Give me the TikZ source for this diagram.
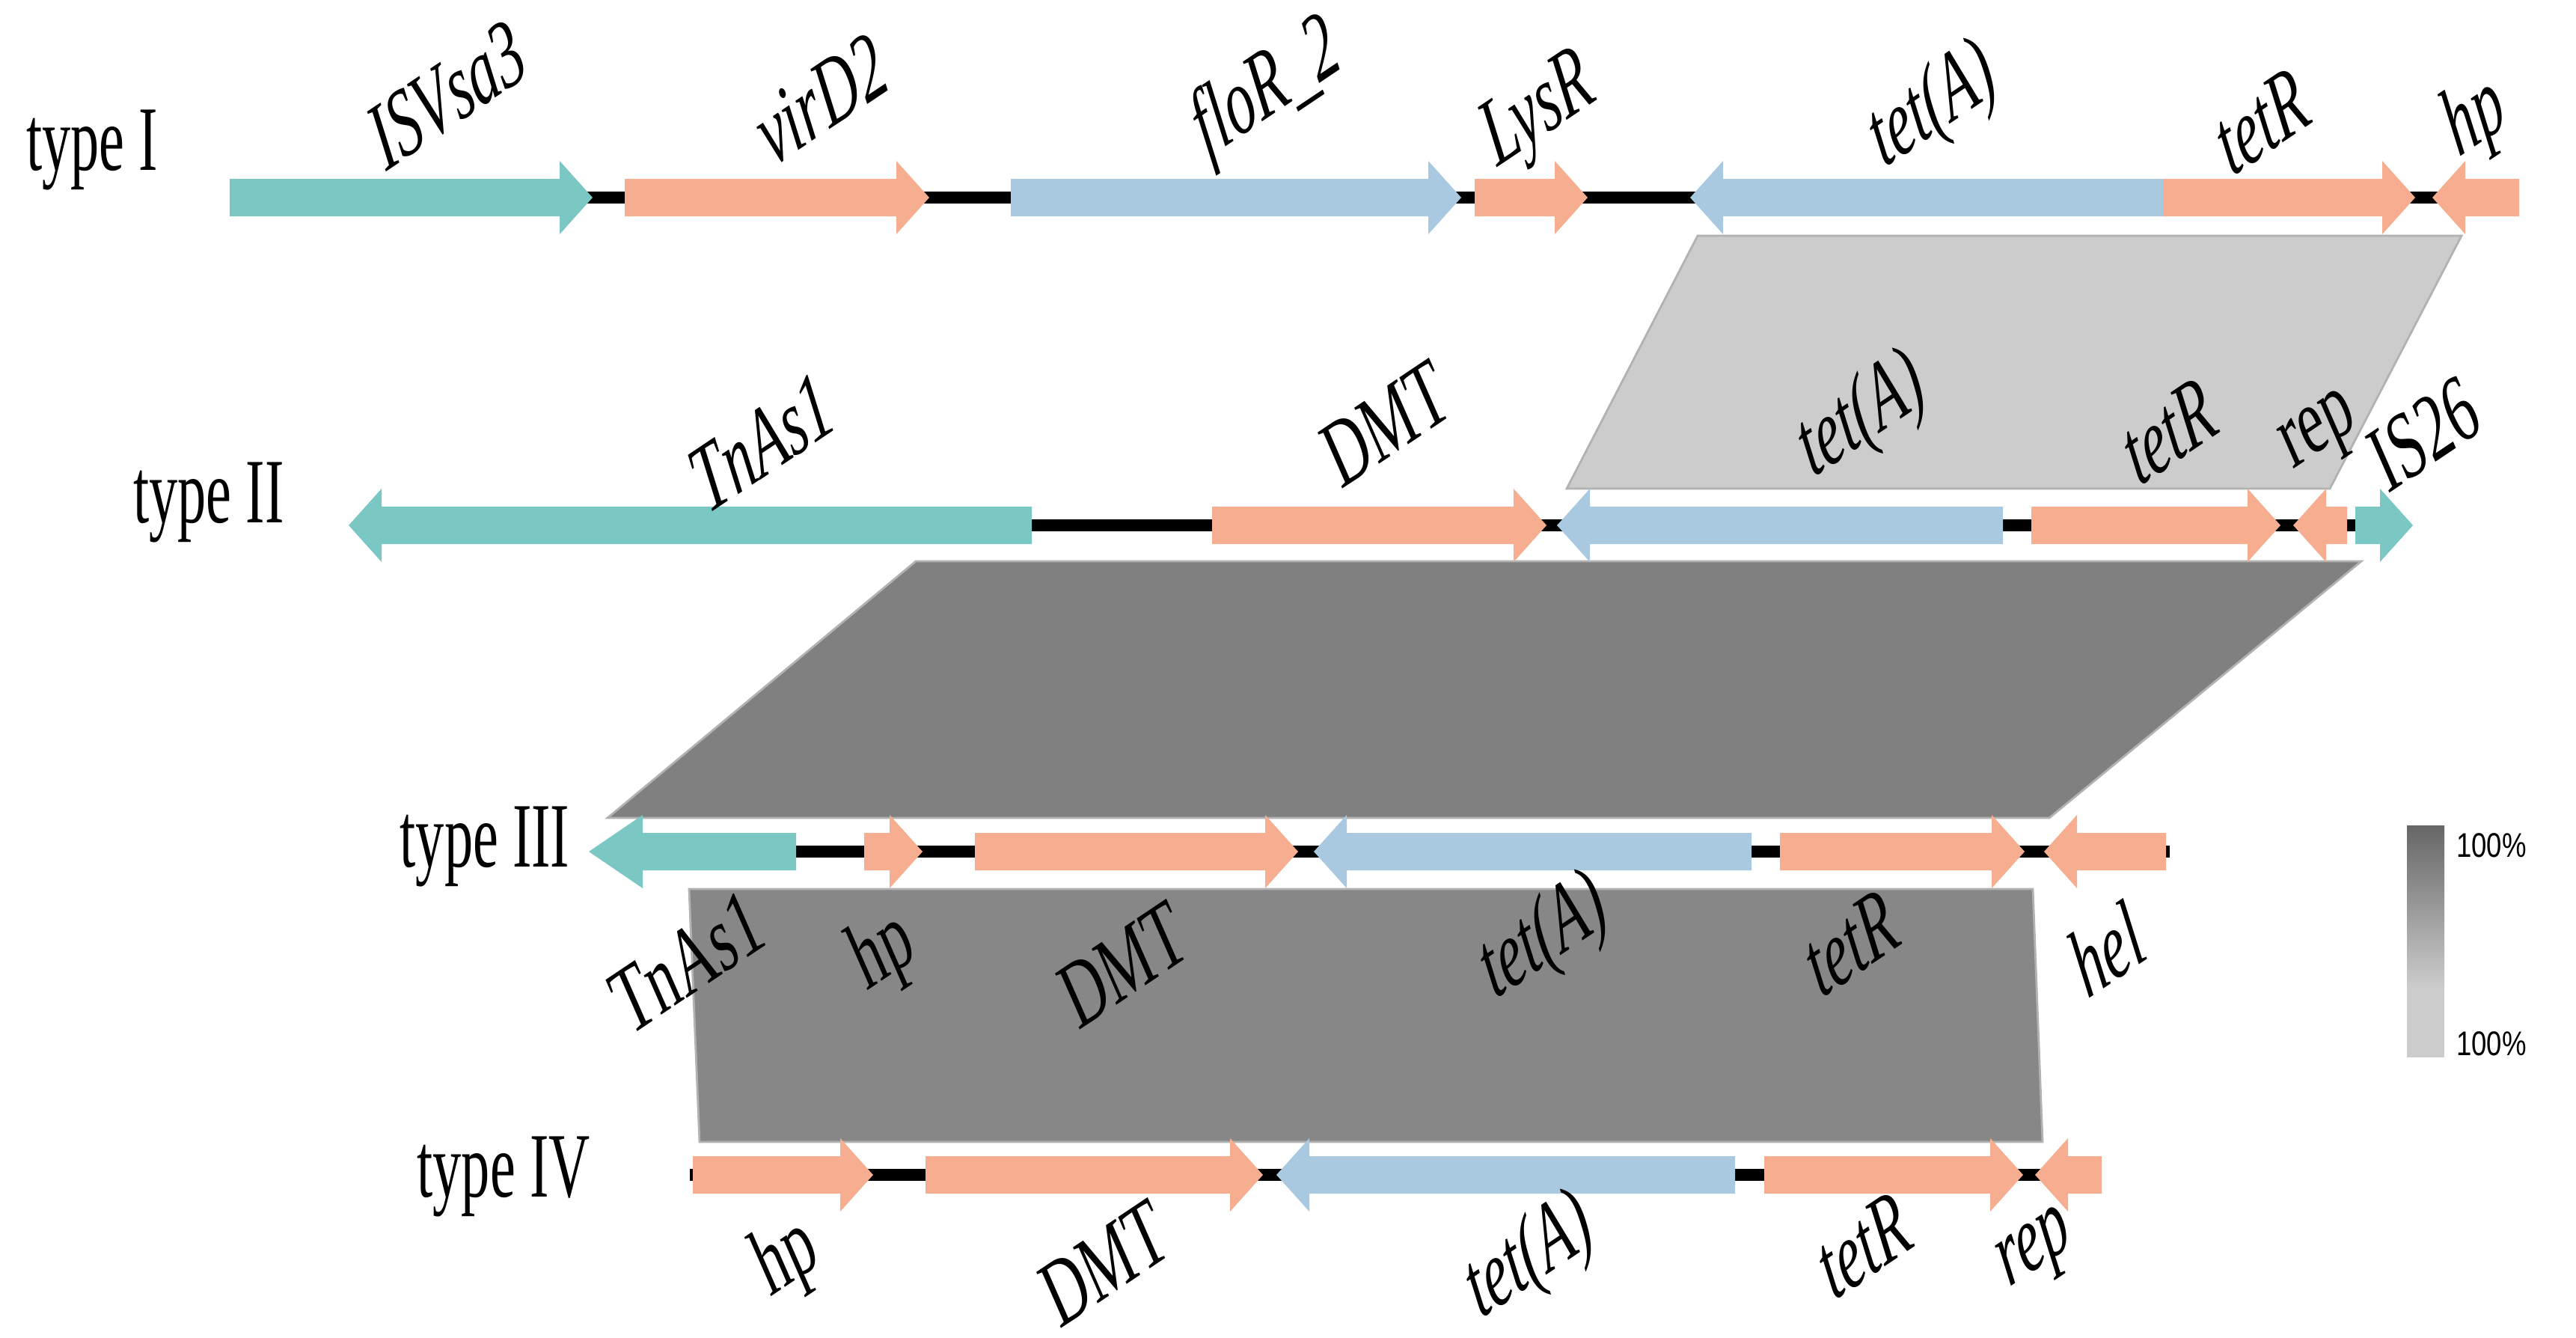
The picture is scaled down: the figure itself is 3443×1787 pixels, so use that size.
\documentclass[tikz,border=0pt]{standalone}
\usepackage{fontspec}
\setmainfont{Liberation Serif}
\newfontfamily\legfont{Liberation Sans}
\usepackage{graphicx}
\usepackage{tikz}
\usetikzlibrary{shapes, arrows.meta, positioning}
\definecolor{iscol}{HTML}{7AC7C4}
\definecolor{orfcol}{HTML}{F7AD8F}
\definecolor{tetcol}{HTML}{A9C9E0}
\newcommand{\genearrow}[5][44]{%
  \pgfmathsetmacro{\hx}{#4>#3 ? #4-#1 : #4+#1}%
  \fill[#5] (#3,#2-25) -- (\hx,#2-25) -- (\hx,#2-49) -- (#4,#2) -- (\hx,#2+49) -- (\hx,#2+25) -- (#3,#2+25) -- cycle;}
\newcommand{\slant}[1]{\scalebox{0.81}[1]{\rotatebox{28.5}{\scalebox{0.74}[1]{#1}}}}
\newcommand{\narrow}[2][0.62]{\scalebox{#1}[1]{#2}}

\begin{document}
\begin{tikzpicture}[x=0.01cm, y=-0.01cm,
  backbone/.style={line width=4.3pt},
  band/.style={draw=black!30, line width=0.8pt},
  typelab/.style={font=\fontsize{35}{35}\selectfont, inner sep=0},
  genelab/.style={font=\fontsize{37}{37}\selectfont\itshape, inner sep=0},
  geneup/.style={font=\fontsize{37}{37}\selectfont, inner sep=0},
  leglab/.style={font=\legfont\fontsize{13}{13}\selectfont, inner sep=0}]
\useasboundingbox (0,0) rectangle (3443,1787);

\filldraw[band, fill=black!20] (2269,315) -- (3290,315) -- (3114,653) -- (2094,653) -- cycle;
\filldraw[band, fill=black!50] (1224,750) -- (3156,750) -- (2739,1093) -- (812,1093) -- cycle;
\filldraw[band, fill=black!47] (921,1188) -- (2717,1188) -- (2730,1526) -- (935,1526) -- cycle;

\draw[backbone] (320,264) -- (3360,264);
\draw[backbone] (480,702) -- (3215,702);
\draw[backbone] (800,1138) -- (2900,1138);
\draw[backbone] (922,1570) -- (2800,1570);

\foreach \s/\e/\c in {307/792/iscol, 835/1242/orfcol, 1351/1953/tetcol, 1971/2122/orfcol,
  2892/2259/tetcol, 2892/3228/orfcol, 3367/3251/orfcol}
  {\genearrow{264}{\s}{\e}{\c}}
\foreach \s/\e/\c in {1379/466/iscol, 1620/2067/orfcol, 2677/2081/tetcol, 2715/3048/orfcol,
  3137/3065/orfcol, 3148/3225/iscol}
  {\genearrow{702}{\s}{\e}{\c}}
\genearrow[72]{1138}{1064}{787}{iscol}
\foreach \s/\e/\c in {1155/1233/orfcol, 1303/1735/orfcol, 2341/1756/tetcol, 2379/2706/orfcol,
  2895/2732/orfcol}
  {\genearrow{1138}{\s}{\e}{\c}}
\foreach \s/\e/\c in {926/1167/orfcol, 1237/1688/orfcol, 2319/1706/tetcol, 2358/2704/orfcol,
  2809/2720/orfcol}
  {\genearrow{1570}{\s}{\e}{\c}}

\node[typelab] (type1) at (123,200) {\narrow{type I}};
\node[typelab] (type2) at (279,671) {\narrow{type II}};
\node[typelab] (type3) at (648,1131) {\narrow{type III}};
\node[typelab] (type4) at (673,1572) {\narrow{type IV}};

\foreach \x/\y/\t/\n in {597/127/ISVsa3/isvsa, 1097/133/virD2/vird, 1694/122/floR\_2/flor,
  2058/153/LysR/lysr, 2584/145/tet(A)/teta1, 3022/163/tetR/tetr1, 3309/160/hp/hp1,
  1018/592/TnAs1/tnas2, 2489/559/tet(A)/teta2, 2898/577/tetR/tetr2,
  2064/1256/tet(A)/teta3, 2473/1261/tetR/tetr3, 2815/1268/hel/hel3,
  2045/1683/tet(A)/teta4, 2490/1665/tetR/tetr4, 2723/1676/rep/rep4}
  {\node[genelab] (\n) at (\x,\y) {\slant{\t}};}
\foreach \x/\y/\t/\n in {1852/566/DMT/dmt2, 3102/583/rep/rep2, 3240/580/IS26/is26,
  918/1286/TnAs1/tnas3, 1181/1274/hp/hp3, 1501/1289/DMT/dmt3,
  1052/1683/hp/hp4, 1476/1688/DMT/dmt4}
  {\node[geneup] (\n) at (\x,\y) {\slant{\t}};}

\shade[top color=black!60, bottom color=black!20] (3217,1103) rectangle (3267,1320);
\fill[black!20] (3217,1320) rectangle (3267,1413);
\node[leglab] (legtop) at (3330,1130) {\narrow[0.8]{100\%}};
\node[leglab] (legbot) at (3330,1395) {\narrow[0.8]{100\%}};
\end{tikzpicture}
\end{document}
